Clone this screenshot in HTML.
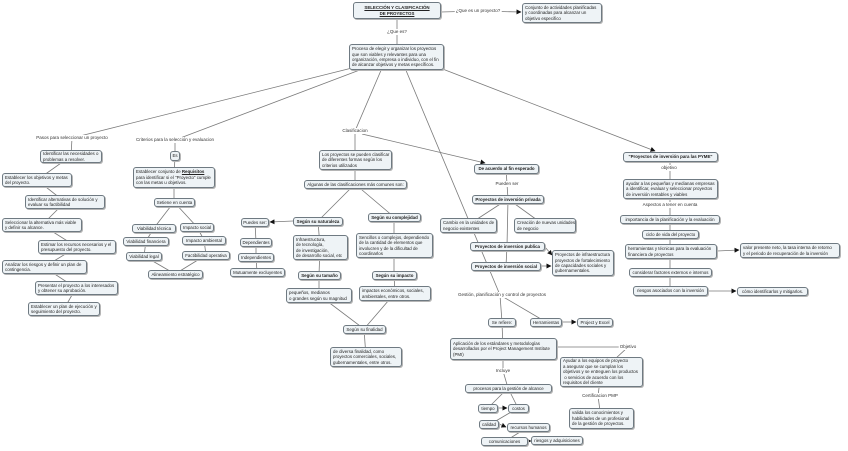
<!DOCTYPE html>
<html><head><meta charset="utf-8"><style>
body{margin:0;width:848px;height:451px;background:#fff;position:relative;overflow:hidden;font-family:"Liberation Sans",sans-serif;}
svg{position:absolute;left:0;top:0;}
.b{position:absolute;box-sizing:border-box;border:1px solid #6f7a82;border-radius:3px;background:#eef3f6;box-shadow:1px 1px 0 #b5b5b5;font-size:4.4px;line-height:5.4px;color:#222;padding:1px 2px;white-space:nowrap;display:flex;align-items:center;overflow:hidden;}
.b>span{display:block;}
.c{justify-content:center;text-align:center;}
.k{font-weight:bold;}
.l{position:absolute;font-size:4.5px;line-height:6px;color:#333;background:#fff;padding:0 1px;white-space:nowrap;transform:translate(-50%,-50%);}
</style></head><body>
<svg width="848" height="451">
<defs><marker id="a" markerWidth="5" markerHeight="5" refX="4.5" refY="2.5" orient="auto" markerUnits="userSpaceOnUse"><path d="M0,0L5,2.5L0,5z" fill="#111"/></marker></defs>
<g stroke="#7a7a7a" stroke-width="0.8" fill="none">
<line x1="441" y1="12" x2="478" y2="11"/><line x1="478" y1="11" x2="521" y2="12" marker-end="url(#a)"/>
<line x1="397" y1="10" x2="397" y2="57"/>
<line x1="352" y1="68" x2="72" y2="138"/><line x1="365" y1="68" x2="175" y2="140"/>
<line x1="382" y1="68" x2="355" y2="131"/><line x1="405" y1="68" x2="500" y2="295"/>
<line x1="440" y1="68" x2="655" y2="151" marker-end="url(#a)"/>
<polyline points="72,138 71,156 37,180 65,202 42,225 77,247 44,267 76,288 64,309"/>
<polyline points="175,140 175,156 174,177 174,202 154,228 146,241 144,256 175,274 206,255 204,240 197,227 174,202"/>
<line x1="293" y1="221" x2="270" y2="222" marker-end="url(#a)"/>
<polyline points="255,222 256,242 256,257 257,272"/>
<polyline points="355,131 355,160 355,184 318,221 320,247 319,275 319,295 364,329 395,293 394,275 394,245 394,217 355,184"/>
<line x1="364" y1="329" x2="366" y2="357"/>
<line x1="362" y1="134" x2="485" y2="163" marker-end="url(#a)"/>
<polyline points="506,169 507,184 508,199 507,246 506,266"/>
<line x1="508" y1="199" x2="468" y2="225"/><line x1="508" y1="199" x2="544" y2="225"/>
<line x1="544" y1="246" x2="552" y2="255" marker-end="url(#a)"/><line x1="541" y1="266" x2="551" y2="266" marker-end="url(#a)"/>
<polyline points="500,295 502,322 503,349 503,371 508,388"/><line x1="500" y1="295" x2="546" y2="322"/>
<line x1="562" y1="322" x2="576" y2="322" marker-end="url(#a)"/>
<polyline points="503,347 628,347 601,372 598,396 601,418"/>
<line x1="508" y1="388" x2="488" y2="408"/><line x1="508" y1="388" x2="518" y2="408"/>
<line x1="498" y1="408" x2="507" y2="408" marker-end="url(#a)"/>
<line x1="518" y1="408" x2="489" y2="425"/><line x1="499" y1="424" x2="506" y2="427" marker-end="url(#a)"/>
<line x1="528" y1="427" x2="504" y2="442"/><line x1="528" y1="441" x2="531" y2="441" marker-end="url(#a)"/>
<polyline points="670,157 670,291"/>
<line x1="717" y1="251" x2="739" y2="250" marker-end="url(#a)"/><line x1="708" y1="291" x2="736" y2="291" marker-end="url(#a)"/>
</g></svg>

<div class="b c k" style="left:353px;top:2px;width:88px;height:17px;text-decoration:underline;"><span>SELECCIÓN Y CLASIFICACIÓN<br>DE PROYECTOS</span></div>
<div class="l" style="left:478px;top:11px;">¿Que es un proyecto?</div>
<div class="b" style="left:522px;top:3px;width:80px;height:20px;"><span>Conjunto de actividades planificadas<br>y coordinadas para alcanzar un<br>objetivo especifico</span></div>
<div class="l" style="left:397px;top:32px;">¿Que es?</div>
<div class="b" style="left:349px;top:44px;width:95px;height:26px;"><span>Proceso de elegir y organizar los proyectos<br>que son viables y relevantes para una<br>organización, empresa o individuo, con el fin<br>de alcanzar objetivos y metas específicos.</span></div>

<div class="l" style="left:72px;top:138px;">Pasos para seleccionar un proyecto</div>
<div class="l" style="left:175px;top:140px;">Criterios para la selección y evaluacion</div>
<div class="l" style="left:355px;top:131px;">Clasificacion</div>

<div class="b" style="left:40px;top:150px;width:62px;height:13px;"><span>Identificar las necesidades o<br>problemas a resolver.</span></div>
<div class="b" style="left:2px;top:173px;width:70px;height:14px;"><span>Establecer los objetivos y metas<br>del proyecto.</span></div>
<div class="b" style="left:25px;top:195px;width:80px;height:14px;"><span>Identificar alternativas de solución y<br>evaluar su factibilidad</span></div>
<div class="b" style="left:2px;top:218px;width:80px;height:14px;"><span>Seleccionar la alternativa más viable<br>y definir su alcance.</span></div>
<div class="b" style="left:38px;top:240px;width:78px;height:14px;"><span>Estimar los recursos necesarios y el<br>presupuesto del proyecto.</span></div>
<div class="b" style="left:2px;top:260px;width:85px;height:14px;"><span>Analizar los riesgos y definir un plan de<br>contingencia.</span></div>
<div class="b" style="left:35px;top:281px;width:83px;height:14px;"><span>Presentar el proyecto a los interesados<br>y obtener su aprobación.</span></div>
<div class="b" style="left:28px;top:302px;width:72px;height:14px;"><span>Establecer un plan de ejecución y<br>seguimiento del proyecto.</span></div>

<div class="b c" style="left:170px;top:151px;width:10px;height:10px;padding:0;"><span>Es</span></div>
<div class="b" style="left:133px;top:167px;width:82px;height:21px;"><span>Establecer conjunto de <b><u>Requisitos</u></b><br>para identificar si el "Proyecto" cumple<br>con las metas u objetivos.</span></div>
<div class="b c" style="left:154px;top:198px;width:41px;height:9px;"><span>Setiene en cuenta</span></div>
<div class="b c" style="left:132px;top:224px;width:44px;height:9px;"><span>Viabilidad técnica</span></div>
<div class="b c" style="left:180px;top:223px;width:34px;height:9px;"><span>Impacto social</span></div>
<div class="b c" style="left:123px;top:237px;width:46px;height:9px;"><span>Viabilidad financiera</span></div>
<div class="b c" style="left:182px;top:236px;width:44px;height:9px;"><span>Impacto ambiental</span></div>
<div class="b c" style="left:126px;top:252px;width:36px;height:9px;"><span>Viabilidad legal</span></div>
<div class="b c" style="left:182px;top:251px;width:48px;height:9px;"><span>Factibilidad operativa</span></div>
<div class="b c" style="left:148px;top:270px;width:55px;height:9px;"><span>Alineamiento estratégico</span></div>

<div class="b c" style="left:241px;top:218px;width:28px;height:9px;"><span>Puedes ser:</span></div>
<div class="b c" style="left:240px;top:238px;width:32px;height:9px;"><span>Dependientes</span></div>
<div class="b c" style="left:238px;top:253px;width:36px;height:9px;"><span>Independientes</span></div>
<div class="b c" style="left:230px;top:268px;width:55px;height:9px;"><span>Mutuamente excluyentes</span></div>

<div class="b" style="left:319px;top:150px;width:73px;height:20px;"><span>Los proyectos se pueden clasificar<br>de diferentes formas según los<br>criterios utilizados</span></div>
<div class="b c" style="left:304px;top:180px;width:103px;height:9px;"><span>Algunas de las clasificaciones más comunes son:</span></div>
<div class="b c k" style="left:293px;top:217px;width:50px;height:9px;"><span>Según su naturaleza</span></div>
<div class="b c k" style="left:368px;top:213px;width:53px;height:9px;"><span>Según su complejidad</span></div>
<div class="b" style="left:293px;top:235px;width:55px;height:25px;"><span>Infraestructura,<br>de tecnología,<br>de investigación,<br>de desarrollo social, etc</span></div>
<div class="b" style="left:356px;top:233px;width:77px;height:25px;"><span>Sencillos o complejos, dependiendo<br>de la cantidad de elementos que<br>involucren y de la dificultad de<br>coordinarlos</span></div>
<div class="b c k" style="left:298px;top:271px;width:43px;height:9px;"><span>Según su tamaño</span></div>
<div class="b c k" style="left:372px;top:271px;width:45px;height:9px;"><span>Según su impacto</span></div>
<div class="b" style="left:286px;top:288px;width:66px;height:15px;"><span>pequeños, medianos<br>o grandes según su magnitud</span></div>
<div class="b" style="left:359px;top:286px;width:72px;height:15px;"><span>impactos económicos, sociales,<br>ambientales, entre otros.</span></div>
<div class="b c" style="left:343px;top:325px;width:43px;height:9px;"><span>Según su finalidad</span></div>
<div class="b" style="left:330px;top:347px;width:72px;height:20px;"><span>de diversa finalidad, como<br>proyectos comerciales, sociales,<br>gubernamentales, entre otros.</span></div>

<div class="b c k" style="left:474px;top:164px;width:65px;height:10px;"><span>De acuerdo al fin esperado</span></div>
<div class="l" style="left:507px;top:184px;">Pueden ser</div>
<div class="b c k" style="left:472px;top:195px;width:72px;height:9px;"><span>Proyectos de inversión privada</span></div>
<div class="b" style="left:440px;top:218px;width:57px;height:15px;"><span>Cambio en la unidades de<br>negocio existentes</span></div>
<div class="b" style="left:514px;top:218px;width:62px;height:15px;"><span>Creación de nuevas unidades<br>de negocio</span></div>
<div class="b c k" style="left:470px;top:242px;width:75px;height:9px;"><span>Proyectos de inversion publica</span></div>
<div class="b c k" style="left:471px;top:262px;width:70px;height:9px;"><span>Proyectos de inversión social</span></div>
<div class="b" style="left:552px;top:250px;width:62px;height:26px;"><span>Proyectos de infraestructura<br>proyectos de fortalecimiento<br>de capacidades sociales y<br>gubernamentales.</span></div>

<div class="l" style="left:502px;top:295px;">Gestión, planificación y control de proyectos</div>
<div class="b c" style="left:488px;top:318px;width:28px;height:9px;"><span>Se refiere:</span></div>
<div class="b c" style="left:530px;top:318px;width:32px;height:9px;"><span>Herramientas</span></div>
<div class="b c" style="left:577px;top:318px;width:36px;height:9px;"><span>Project y Excel</span></div>
<div class="b" style="left:450px;top:338px;width:107px;height:22px;"><span>Aplicación de los estándares y metodologías<br>desarrollados por el Project Management Institute<br>(PMI)</span></div>
<div class="l" style="left:628px;top:347px;">Objetivo</div>
<div class="b" style="left:560px;top:357px;width:83px;height:30px;"><span>Ayudar a los equipos de proyecto<br>a asegurar que se cumplan los<br>objetivos y se entreguen los productos<br>&nbsp;o servicios de acuerdo con los<br>requisitos del cliente</span></div>
<div class="l" style="left:600px;top:396px;">Certificacion PMP</div>
<div class="b" style="left:569px;top:408px;width:65px;height:21px;"><span>valida los conocimientos y<br>habilidades de un profesional<br>de la gestión de proyectos.</span></div>
<div class="l" style="left:503px;top:371px;">Incluye</div>
<div class="b c" style="left:465px;top:384px;width:87px;height:9px;"><span>procesos para la gestión de alcance</span></div>
<div class="b c" style="left:478px;top:404px;width:20px;height:9px;"><span>tiempo</span></div>
<div class="b c" style="left:508px;top:404px;width:21px;height:9px;"><span>costos</span></div>
<div class="b c" style="left:479px;top:420px;width:20px;height:9px;"><span>calidad</span></div>
<div class="b c" style="left:507px;top:423px;width:43px;height:9px;"><span>recursos humanos</span></div>
<div class="b c" style="left:481px;top:437px;width:47px;height:9px;"><span>comunicaciones</span></div>
<div class="b c" style="left:531px;top:436px;width:52px;height:9px;"><span>riesgos y adquisiciones</span></div>

<div class="b c k" style="left:623px;top:152px;width:95px;height:10px;"><span>"Proyectos de inversión para las PYME"</span></div>
<div class="l" style="left:669px;top:168px;">objetivo</div>
<div class="b" style="left:623px;top:179px;width:95px;height:20px;"><span>ayudar a las pequeñas y medianas empresas<br>a identificar, evaluar y seleccionar proyectos<br>de inversión rentables y viables</span></div>
<div class="l" style="left:670px;top:205px;">Aspectos a tener en cuenta</div>
<div class="b c" style="left:620px;top:215px;width:100px;height:9px;"><span>importancia de la planificación y la evaluación</span></div>
<div class="b c" style="left:642px;top:230px;width:57px;height:9px;"><span>ciclo de vida del proyecto</span></div>
<div class="b" style="left:625px;top:244px;width:92px;height:15px;"><span>herramientas y técnicas para la evaluación<br>financiera de proyectos</span></div>
<div class="b" style="left:740px;top:243px;width:100px;height:15px;"><span>valor presente neto, la tasa interna de retorno<br>y el periodo de recuperación de la inversión</span></div>
<div class="b c" style="left:629px;top:268px;width:83px;height:9px;"><span>considerar factores externos e internos</span></div>
<div class="b c" style="left:633px;top:286px;width:75px;height:10px;"><span>riesgos asociados con la inversión</span></div>
<div class="b c" style="left:737px;top:287px;width:71px;height:9px;"><span>cómo identificarlos y mitigarlos.</span></div>
</body></html>
